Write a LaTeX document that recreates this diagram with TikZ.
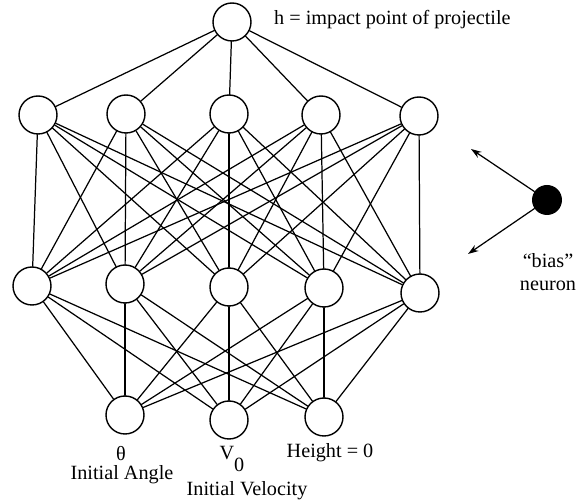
\documentclass[tikz,border=0pt]{standalone}
\usepackage{fontspec}
\setmainfont{Liberation Serif}
\usetikzlibrary{arrows.meta}

\tikzset{
  neuron/.style={circle, draw=black, line width=0.8pt, fill=white,
                 minimum size=0.76cm, inner sep=0pt},
  biasneuron/.style={circle, fill=black, minimum size=0.6cm, inner sep=0pt},
  link/.style={line width=0.7pt},
  tag/.style={inner sep=0.5pt},
}

\begin{document}
\begin{tikzpicture}[x=0.02cm, y=-0.02cm, >={Stealth[length=6pt,width=4pt]},
    line cap=round, line join=round, font=\fontsize{11.5}{13}\selectfont]

  \useasboundingbox (0,0) rectangle (586,502);

  %--- Output neuron ---------------------------------------------------------
  \node[neuron] (h) at (232,22) {};
  \node[tag, anchor=west] (hlab) at (273,20) {h = impact point of projectile};

  %--- Hidden layer 1 (upper) ------------------------------------------------
  \node[neuron] (a1) at ( 38,115) {};
  \node[neuron] (a2) at (126,114) {};
  \node[neuron] (a3) at (229,114) {};
  \node[neuron] (a4) at (321,115) {};
  \node[neuron] (a5) at (419,116) {};

  %--- Hidden layer 2 (lower) ------------------------------------------------
  \node[neuron] (b1) at ( 32,286) {};
  \node[neuron] (b2) at (125,284) {};
  \node[neuron] (b3) at (229,287) {};
  \node[neuron] (b4) at (324,288) {};
  \node[neuron] (b5) at (420,293) {};

  %--- Input layer -----------------------------------------------------------
  \node[neuron] (in1) at (125,415) {};
  \node[neuron] (in2) at (229,420) {};
  \node[neuron] (in3) at (324,417) {};

  %--- Connections -----------------------------------------------------------
  \foreach \i in {1,...,5}
    \draw[link] (h) -- (a\i);
  \foreach \i in {1,...,5}
    \foreach \j in {1,...,5}
      \draw[link] (a\i) -- (b\j);
  \foreach \i in {1,...,5}
    \foreach \j in {1,2,3}
      \draw[link] (b\i) -- (in\j);

  %--- Bias neuron -----------------------------------------------------------
  \node[biasneuron] (bias) at (547,200) {};
  \coordinate (bup)   at (471,149);
  \coordinate (bdown) at (468,254);
  \draw[link, ->] (bias) -- (bup);
  \draw[link, ->] (bias) -- (bdown);
  \node[tag, align=center] (biaslab) at (548,272) {``bias''\\neuron};

  %--- Input labels ----------------------------------------------------------
  \node[tag] (theta)  at (121,454) {θ};
  \node[tag] (angle)  at (122,475) {Initial Angle};
  \node[tag] (vzero)  at (232,459) {V\raisebox{-1.3ex}{0}};
  \node[tag] (veloc)  at (247,491) {Initial Velocity};
  \node[tag] (height) at (330,453) {Height = 0};

\end{tikzpicture}
\end{document}
